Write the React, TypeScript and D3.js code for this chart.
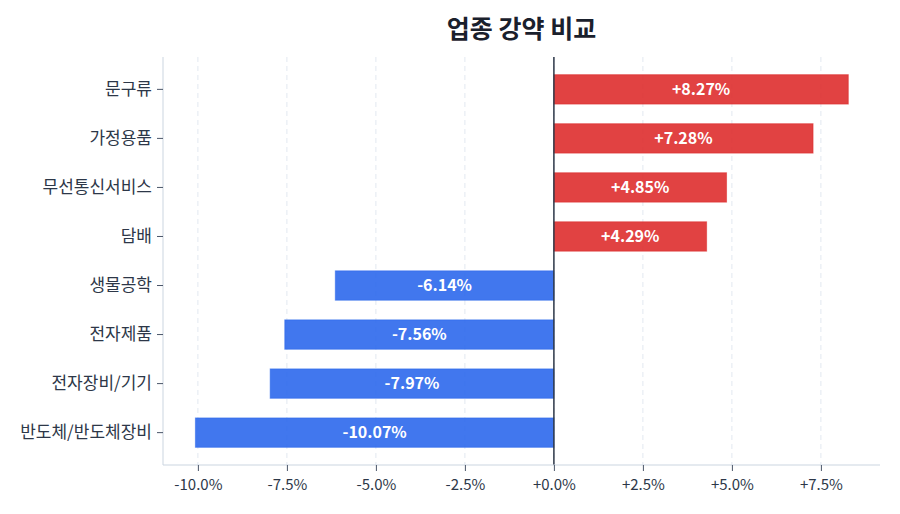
import React, { useEffect, useRef } from 'react';
import * as d3 from 'd3';

// 업종별 등락률 (%)
const sectors = ['문구류', '가정용품', '무선통신서비스', '담배', '생물공학', '전자제품', '전자장비/기기', '반도체/반도체장비'];
const changes = [8.27, 7.28, 4.85, 4.29, -6.14, -7.56, -7.97, -10.07];
const xTicks = [-10, -7.5, -5, -2.5, 0, 2.5, 5, 7.5];

const WIDTH = 900;
const HEIGHT = 514;
const FONT = '"Noto Sans CJK KR", "Noto Sans", sans-serif';
const UP = '#dc2626';
const DOWN = '#2563eb';

const fmt = (v: number) => (v >= 0 ? '+' : '') + v.toFixed(1) + '%';

const App = () => {
  const ref = useRef<SVGSVGElement | null>(null);

  useEffect(() => {
    const svg = d3.select(ref.current);
    svg.selectAll('*').remove();

    const m = { top: 57, right: 20, bottom: 49, left: 163 };
    const innerW = WIDTH - m.left - m.right;
    const innerH = HEIGHT - m.top - m.bottom;

    const x = d3.scaleLinear().domain([-10.98, 9.16]).range([0, innerW]);
    const y = d3.scaleBand<string>().domain(sectors).range([0, innerH]).paddingInner(0.4).paddingOuter(0.36);

    svg.append('text')
      .attr('x', m.left + innerW / 2)
      .attr('y', 38)
      .attr('text-anchor', 'middle')
      .style('font-family', FONT)
      .style('font-size', '25px')
      .style('font-weight', '700')
      .style('fill', '#1a202c')
      .text('업종 강약 비교');

    const g = svg.append('g').attr('transform', `translate(${m.left},${m.top})`);

    // 세로 점선 그리드
    g.selectAll('.grid')
      .data(xTicks)
      .enter()
      .append('line')
      .attr('x1', d => x(d))
      .attr('x2', d => x(d))
      .attr('y1', 0)
      .attr('y2', innerH)
      .style('stroke', '#e2e8f0')
      .style('stroke-dasharray', '5,4')
      .style('stroke-width', 1);

    // 막대
    g.selectAll('.bar')
      .data(changes)
      .enter()
      .append('rect')
      .attr('x', d => x(Math.min(0, d)))
      .attr('y', (d, i) => y(sectors[i])!)
      .attr('width', d => Math.abs(x(d) - x(0)))
      .attr('height', y.bandwidth())
      .style('fill', d => (d >= 0 ? UP : DOWN))
      .style('fill-opacity', 0.87)
      .style('stroke', d => (d >= 0 ? UP : DOWN))
      .style('stroke-opacity', 0.5)
      .style('stroke-width', 1);

    // 값 라벨
    g.selectAll('.label')
      .data(changes)
      .enter()
      .append('text')
      .attr('x', d => (x(d) + x(0)) / 2)
      .attr('y', (d, i) => y(sectors[i])! + y.bandwidth() / 2)
      .attr('dy', '0.36em')
      .attr('text-anchor', 'middle')
      .style('font-family', FONT)
      .style('font-size', '16px')
      .style('font-weight', '700')
      .style('fill', '#ffffff')
      .text(d => (d >= 0 ? '+' : '') + d.toFixed(2) + '%');

    // 0 기준선
    g.append('line')
      .attr('x1', x(0))
      .attr('x2', x(0))
      .attr('y1', 0)
      .attr('y2', innerH)
      .style('stroke', '#2d3748')
      .style('stroke-width', 1.5);

    // y축
    const yAxis = g.append('g').call(d3.axisLeft(y).tickSize(6).tickPadding(5));
    yAxis.select('.domain').style('stroke', '#cbd5e0').attr('d', `M0,0V${innerH}`);
    yAxis.selectAll('.tick line').style('stroke', '#4a5568');
    yAxis.selectAll('.tick text')
      .style('font-family', FONT)
      .style('font-size', '17px')
      .style('fill', '#2d3748');

    // x축
    const xAxis = g.append('g')
      .attr('transform', `translate(0,${innerH})`)
      .call(d3.axisBottom(x).tickValues(xTicks).tickFormat(d => fmt(d as number)).tickSize(6).tickPadding(8));
    xAxis.select('.domain').style('stroke', '#cbd5e0').attr('d', `M0,0H${innerW}`);
    xAxis.selectAll('.tick line').style('stroke', '#4a5568');
    xAxis.selectAll('.tick text')
      .style('font-family', FONT)
      .style('font-size', '15px')
      .style('fill', '#2d3748');
  }, []);

  return (
    <div style={{ margin: -8, width: WIDTH, height: HEIGHT, background: '#fff' }}>
      <svg ref={ref} width={WIDTH} height={HEIGHT} style={{ display: 'block' }} />
    </div>
  );
};

export default App;
